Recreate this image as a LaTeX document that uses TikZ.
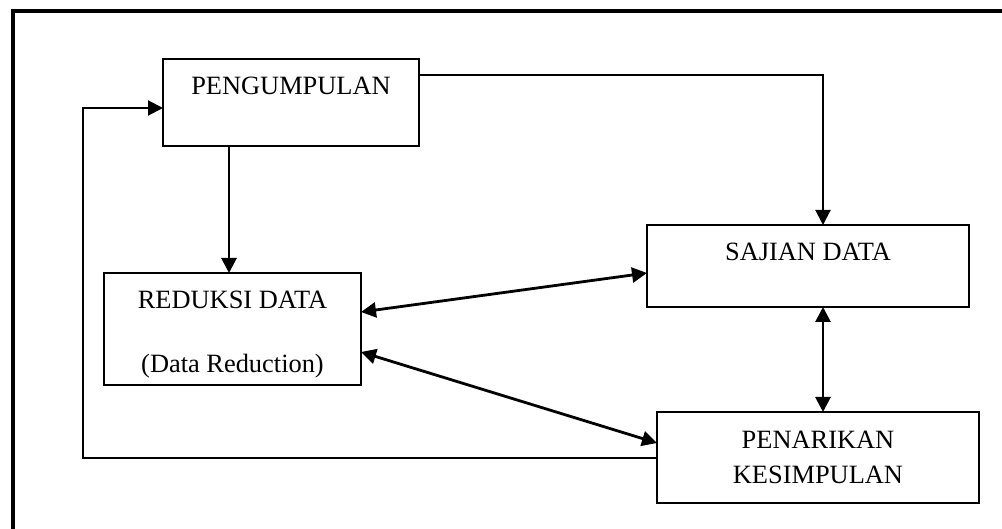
\documentclass[tikz,border=0pt]{standalone}
\usepackage{fontspec}
\setmainfont{Liberation Serif}
\usetikzlibrary{arrows.meta}

\tikzset{
  kotak/.style={draw,line width=1pt,inner sep=0pt,outer sep=0pt},
  teks/.style={inner sep=0pt,anchor=base,font=\fontsize{13.2}{15}\selectfont},
  panah/.style={line width=1pt,-{Triangle[length=7.5pt,width=7.5pt]}},
  panahtebal/.style={line width=1.4pt,-{Triangle[length=7.5pt,width=7.5pt]}},
  panahdua/.style={line width=1.4pt,{Triangle[length=7.5pt,width=7.5pt]}-{Triangle[length=7.5pt,width=7.5pt]}}
}

\begin{document}
\begin{tikzpicture}[x=0.5pt,y=-0.5pt]
\useasboundingbox (0,0) rectangle (1002,529);
% bingkai luar
\draw[line width=2pt] (13,560) -- (13,11) -- (1030,11);

% kotak
\node[kotak,minimum width=128pt,minimum height=43.5pt] (pengumpulan) at (291,102.5) {};
\node[kotak,minimum width=128.5pt,minimum height=56pt] (reduksi) at (232.5,329) {};
\node[kotak,minimum width=161pt,minimum height=41pt] (sajian) at (808,266) {};
\node[kotak,minimum width=161pt,minimum height=45.5pt] (penarikan) at (818,457.5) {};

% tulisan
\node[teks] (tpengumpulan) at (291,95) {PENGUMPULAN};
\node[teks] (treduksi) at (232.5,309) {REDUKSI DATA};
\node[teks] (treduksi2) at (232.5,372) {(Data Reduction)};
\node[teks] (tsajian) at (808,261) {SAJIAN DATA};
\node[teks] (tpenarikan) at (818,448) {PENARIKAN};
\node[teks] (tpenarikan2) at (818,483) {KESIMPULAN};

% titik bantu
\coordinate (belok1) at (823,75);
\coordinate (belok2) at (83,108);
\coordinate (turun) at (229,0);
\coordinate (ra) at (0,312);
\coordinate (sa) at (0,273);
\coordinate (rb) at (0,352);
\coordinate (pb) at (0,443);

% panah
\draw[panah] (pengumpulan.east |- belok1) -| (sajian.north -| belok1);
\draw[panah] (penarikan.west) -| (belok2) -- (pengumpulan.west |- belok2);
\draw[panahtebal] (pengumpulan.south -| turun) -- (reduksi.north -| turun);
\draw[panahdua] (reduksi.east |- ra) -- (sajian.west |- sa);
\draw[panahdua] (reduksi.east |- rb) -- (penarikan.west |- pb);
\draw[panahdua] (sajian.south -| belok1) -- (penarikan.north -| belok1);
\end{tikzpicture}
\end{document}
